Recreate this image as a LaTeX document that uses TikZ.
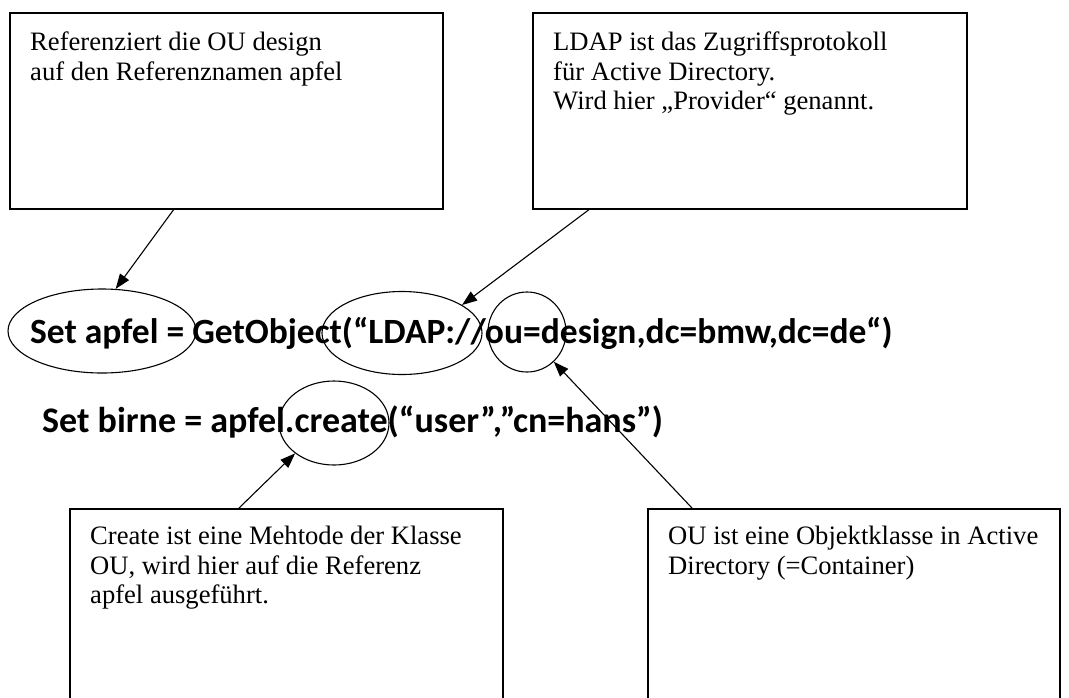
\documentclass[tikz,border=0pt]{standalone}
\usepackage{fontspec}
\setmainfont{Liberation Serif}
\newfontfamily\codefont{Carlito}
\usetikzlibrary{shapes.geometric,arrows.meta,calc}
\begin{document}
\begin{tikzpicture}[x=1pt,y=-1pt,
  box/.style={draw, line width=1.5pt, inner sep=0pt, outer sep=0pt, anchor=north west},
  txt/.style={inner sep=0pt, anchor=north west, align=left,
    font=\fontsize{26.6}{29.5}\selectfont},
  code/.style={inner sep=0pt, anchor=base west, font=\codefont\bfseries\fontsize{#1}{42}\selectfont},
  oval/.style={draw, ellipse, line width=1.1pt, inner sep=0pt},
  arr/.style={line width=1.1pt, -{Triangle[length=15pt,width=11pt]}}]
\clip (0,0) rectangle (1069,697);
\fill[white] (0,0) rectangle (1069,697);
% boxes
\node[box, minimum width=433pt, minimum height=196pt] (b1) at (10,13) {};
\node[box, minimum width=434pt, minimum height=196pt] (b2) at (533,13) {};
\node[box, minimum width=433pt, minimum height=250pt] (b3) at (70,509) {};
\node[box, minimum width=412pt, minimum height=250pt] (b4) at (648,509) {};
% box texts
\node[txt] (t1) at (30,32) {Referenziert die OU design\\auf den Referenznamen apfel};
\node[txt] (t2) at (553,32) {LDAP ist das Zugriffsprotokoll\\für Active Directory.\\Wird hier „Provider“ genannt.};
\node[txt] (t3) at (90,526) {Create ist eine Mehtode der Klasse\\OU, wird hier auf die Referenz\\apfel ausgeführt.};
\node[txt] (t4) at (668,526) {OU ist eine Objektklasse in Active\\Directory (=Container)};
% code lines
\node[code=35.5] (c1) at (30,343) {Set apfel = GetObject(“LDAP://ou=design,dc=bmw,dc=de“)};
\node[code=36] (c2) at (42,432) {Set birne = apfel.create(“user”,”cn=hans”)};
% ellipses
\node[oval, minimum width=188pt, minimum height=84pt] (e1) at (102,331) {};
\node[oval, minimum width=160pt, minimum height=83pt] (e2) at (402,333) {};
\node[oval, minimum width=78pt, minimum height=80pt] (e3) at (527,332) {};
\node[oval, minimum width=110pt, minimum height=84pt] (e4) at (334,423) {};
% arrows
\draw[arr] ($(b1.south west)!0.379!(b1.south east)$) -- (e1.72);
\draw[arr] ($(b2.south west)!0.131!(b2.south east)$) -- (e2.25);
\draw[arr] ($(b3.north west)!0.388!(b3.north east)$) -- (e4.218);
\draw[arr] ($(b4.north west)!0.109!(b4.north east)$) -- (e3.312);
\end{tikzpicture}
\end{document}
